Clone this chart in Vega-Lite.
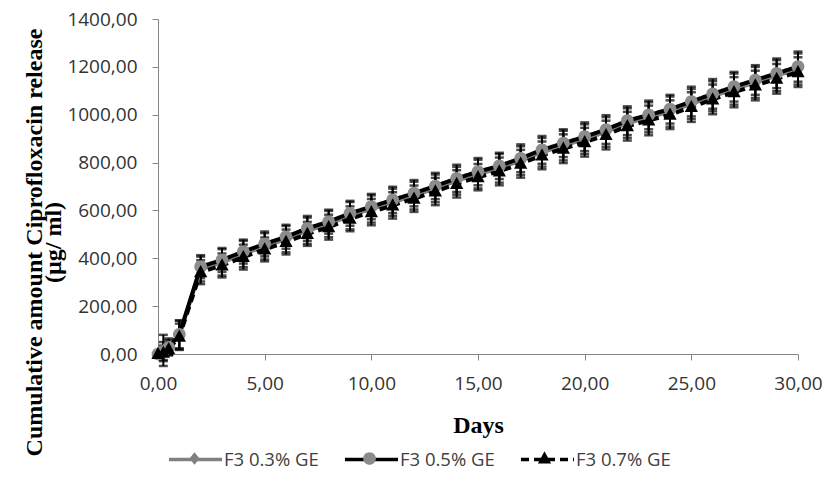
{
  "$schema": "https://vega.github.io/schema/vega-lite/v6.json",
  "autosize": "none",
  "width": 640,
  "height": 335,
  "padding": {"left": 158, "top": 19, "right": 26, "bottom": 123},
  "background": "white",
  "config": {
    "view": {"stroke": null},
    "locale": {"number": {"decimal": ",", "thousands": ".", "grouping": [3], "currency": ["", ""]}}
  },
  "data": {"values": [
    {"d":0,"s":"F3 0.3% GE","v":0,"e":0},{"d":0.25,"s":"F3 0.3% GE","v":15,"e":65},{"d":0.5,"s":"F3 0.3% GE","v":30,"e":35},{"d":1,"s":"F3 0.3% GE","v":80,"e":60},
    {"d":2,"s":"F3 0.3% GE","v":355,"e":52},{"d":3,"s":"F3 0.3% GE","v":383,"e":55},{"d":4,"s":"F3 0.3% GE","v":418,"e":55},{"d":5,"s":"F3 0.3% GE","v":450,"e":55},{"d":6,"s":"F3 0.3% GE","v":480,"e":55},{"d":7,"s":"F3 0.3% GE","v":515,"e":55},{"d":8,"s":"F3 0.3% GE","v":543,"e":55},{"d":9,"s":"F3 0.3% GE","v":578,"e":57},{"d":10,"s":"F3 0.3% GE","v":606,"e":57},{"d":11,"s":"F3 0.3% GE","v":634,"e":57},{"d":12,"s":"F3 0.3% GE","v":662,"e":58},{"d":13,"s":"F3 0.3% GE","v":692,"e":58},{"d":14,"s":"F3 0.3% GE","v":724,"e":58},{"d":15,"s":"F3 0.3% GE","v":752,"e":60},{"d":16,"s":"F3 0.3% GE","v":776,"e":60},{"d":17,"s":"F3 0.3% GE","v":808,"e":60},{"d":18,"s":"F3 0.3% GE","v":843,"e":60},{"d":19,"s":"F3 0.3% GE","v":871,"e":62},{"d":20,"s":"F3 0.3% GE","v":898,"e":62},{"d":21,"s":"F3 0.3% GE","v":928,"e":62},{"d":22,"s":"F3 0.3% GE","v":965,"e":62},{"d":23,"s":"F3 0.3% GE","v":989,"e":63},{"d":24,"s":"F3 0.3% GE","v":1013,"e":63},{"d":25,"s":"F3 0.3% GE","v":1045,"e":63},{"d":26,"s":"F3 0.3% GE","v":1077,"e":63},{"d":27,"s":"F3 0.3% GE","v":1107,"e":65},{"d":28,"s":"F3 0.3% GE","v":1135,"e":65},{"d":29,"s":"F3 0.3% GE","v":1163,"e":65},{"d":30,"s":"F3 0.3% GE","v":1191,"e":65},
    {"d":0,"s":"F3 0.5% GE","v":0,"e":0},{"d":0.25,"s":"F3 0.5% GE","v":10,"e":40},{"d":0.5,"s":"F3 0.5% GE","v":28,"e":30},{"d":1,"s":"F3 0.5% GE","v":82,"e":58},
    {"d":2,"s":"F3 0.5% GE","v":365,"e":48},{"d":3,"s":"F3 0.5% GE","v":393,"e":50},{"d":4,"s":"F3 0.5% GE","v":428,"e":50},{"d":5,"s":"F3 0.5% GE","v":460,"e":52},{"d":6,"s":"F3 0.5% GE","v":490,"e":50},{"d":7,"s":"F3 0.5% GE","v":525,"e":52},{"d":8,"s":"F3 0.5% GE","v":553,"e":50},{"d":9,"s":"F3 0.5% GE","v":588,"e":52},{"d":10,"s":"F3 0.5% GE","v":616,"e":53},{"d":11,"s":"F3 0.5% GE","v":644,"e":55},{"d":12,"s":"F3 0.5% GE","v":672,"e":55},{"d":13,"s":"F3 0.5% GE","v":702,"e":55},{"d":14,"s":"F3 0.5% GE","v":734,"e":57},{"d":15,"s":"F3 0.5% GE","v":762,"e":57},{"d":16,"s":"F3 0.5% GE","v":786,"e":55},{"d":17,"s":"F3 0.5% GE","v":818,"e":58},{"d":18,"s":"F3 0.5% GE","v":853,"e":58},{"d":19,"s":"F3 0.5% GE","v":881,"e":58},{"d":20,"s":"F3 0.5% GE","v":908,"e":60},{"d":21,"s":"F3 0.5% GE","v":938,"e":60},{"d":22,"s":"F3 0.5% GE","v":975,"e":60},{"d":23,"s":"F3 0.5% GE","v":999,"e":60},{"d":24,"s":"F3 0.5% GE","v":1023,"e":60},{"d":25,"s":"F3 0.5% GE","v":1055,"e":62},{"d":26,"s":"F3 0.5% GE","v":1087,"e":62},{"d":27,"s":"F3 0.5% GE","v":1117,"e":62},{"d":28,"s":"F3 0.5% GE","v":1145,"e":62},{"d":29,"s":"F3 0.5% GE","v":1173,"e":62},{"d":30,"s":"F3 0.5% GE","v":1201,"e":63},
    {"d":0,"s":"F3 0.7% GE","v":0,"e":0},{"d":0.25,"s":"F3 0.7% GE","v":5,"e":30},{"d":0.5,"s":"F3 0.7% GE","v":20,"e":25},{"d":1,"s":"F3 0.7% GE","v":72,"e":55},
    {"d":2,"s":"F3 0.7% GE","v":342,"e":50},{"d":3,"s":"F3 0.7% GE","v":370,"e":50},{"d":4,"s":"F3 0.7% GE","v":405,"e":52},{"d":5,"s":"F3 0.7% GE","v":437,"e":50},{"d":6,"s":"F3 0.7% GE","v":468,"e":52},{"d":7,"s":"F3 0.7% GE","v":502,"e":50},{"d":8,"s":"F3 0.7% GE","v":530,"e":52},{"d":9,"s":"F3 0.7% GE","v":565,"e":52},{"d":10,"s":"F3 0.7% GE","v":593,"e":55},{"d":11,"s":"F3 0.7% GE","v":621,"e":55},{"d":12,"s":"F3 0.7% GE","v":649,"e":55},{"d":13,"s":"F3 0.7% GE","v":679,"e":57},{"d":14,"s":"F3 0.7% GE","v":711,"e":57},{"d":15,"s":"F3 0.7% GE","v":739,"e":55},{"d":16,"s":"F3 0.7% GE","v":763,"e":58},{"d":17,"s":"F3 0.7% GE","v":795,"e":58},{"d":18,"s":"F3 0.7% GE","v":830,"e":58},{"d":19,"s":"F3 0.7% GE","v":858,"e":60},{"d":20,"s":"F3 0.7% GE","v":885,"e":60},{"d":21,"s":"F3 0.7% GE","v":915,"e":60},{"d":22,"s":"F3 0.7% GE","v":952,"e":60},{"d":23,"s":"F3 0.7% GE","v":976,"e":62},{"d":24,"s":"F3 0.7% GE","v":1000,"e":60},{"d":25,"s":"F3 0.7% GE","v":1032,"e":62},{"d":26,"s":"F3 0.7% GE","v":1064,"e":62},{"d":27,"s":"F3 0.7% GE","v":1094,"e":63},{"d":28,"s":"F3 0.7% GE","v":1122,"e":62},{"d":29,"s":"F3 0.7% GE","v":1150,"e":62},{"d":30,"s":"F3 0.7% GE","v":1178,"e":62}
  ]},
  "encoding": {
    "x": {
      "field": "d", "type": "quantitative",
      "scale": {"domain": [0, 30], "nice": false, "zero": false},
      "axis": {
        "values": [0, 5, 10, 15, 20, 25, 30], "format": ".2f", "grid": false,
        "domainColor": "#868686", "tickColor": "#868686", "tickSize": 6,
        "labelFont": "Open Sans", "labelFontSize": 19, "labelColor": "#333333", "labelPadding": 14, "labelOverlap": false, "labelFlush": false,
        "title": "Days", "titleFont": "Liberation Serif", "titleFontWeight": "bold", "titleFontSize": 24, "titleColor": "#000000",
        "titleBaseline": "alphabetic", "titleY": 78, "titleX": 320
      }
    },
    "y": {
      "field": "v", "type": "quantitative",
      "scale": {"domain": [0, 1400], "nice": false},
      "axis": {
        "values": [0, 200, 400, 600, 800, 1000, 1200, 1400], "format": ".2f", "grid": false,
        "domainColor": "#868686", "tickColor": "#868686", "tickSize": 6,
        "labelFont": "Open Sans", "labelFontSize": 19, "labelColor": "#333333", "labelPadding": 15,
        "title": ["Cumulative amount Ciprofloxacin release", "(µg/ ml)"],
        "titleFont": "Liberation Serif", "titleFontWeight": "bold", "titleFontSize": 24, "titleColor": "#000000",
        "titleAngle": -90, "titleAlign": "center", "titleBaseline": "top", "titleLineHeight": 19.5,
        "titleX": -136, "titleY": 223
      }
    }
  },
  "layer": [
    {
      "mark": {"type": "errorbar", "color": "#000000", "rule": {"strokeWidth": 2}, "ticks": {"size": 9, "thickness": 2.5, "color": "#000000"}},
      "encoding": {
        "y": {"field": "v", "type": "quantitative"},
        "yError": {"field": "e"}
      }
    },
    {
      "mark": {"type": "line", "strokeWidth": 4},
      "encoding": {
        "stroke": {
          "field": "s", "type": "nominal",
          "scale": {"domain": ["F3 0.3% GE", "F3 0.5% GE", "F3 0.7% GE"], "range": ["#808080", "#000000", "#000000"]},
          "legend": {
            "orient": "none", "legendX": 9, "legendY": 412, "direction": "horizontal", "title": null,
            "symbolType": "stroke", "symbolSize": 2809, "symbolStrokeWidth": 3.5,
            "labelOffset": 0, "columnPadding": 19, "padding": 0,
            "labelFont": "Open Sans", "labelFontSize": 18.5, "labelColor": "#404040"
          }
        },
        "strokeDash": {
          "field": "s", "type": "nominal",
          "scale": {"domain": ["F3 0.3% GE", "F3 0.5% GE", "F3 0.7% GE"], "range": [[1, 0], [1, 0], [8, 5]]}
        }
      }
    },
    {
      "mark": {"type": "point", "filled": true, "opacity": 1, "size": 2809, "strokeWidth": 0},
      "encoding": {
        "fill": {
          "field": "s", "type": "nominal",
          "scale": {"range": ["#808080", "#8c8c8c", "#000000"]},
          "legend": {
            "orient": "none", "legendX": 9, "legendY": 412, "direction": "horizontal", "title": null,
            "symbolSize": 2809, "labelOffset": 0, "columnPadding": 120, "padding": 0,
            "labelExpr": "''", "labelFontSize": 18.5, "zindex": 1
          }
        },
        "shape": {
          "field": "s", "type": "nominal",
          "scale": {"range": [
            "M0,-0.24L0.19,0L0,0.24L-0.19,0Z",
            "M-0.24,0A0.24,0.24,0,1,1,0.24,0A0.24,0.24,0,1,1,-0.24,0Z",
            "M0,-0.27L0.25,0.19L-0.25,0.19Z"
          ]}
        }
      }
    }
  ]
}
